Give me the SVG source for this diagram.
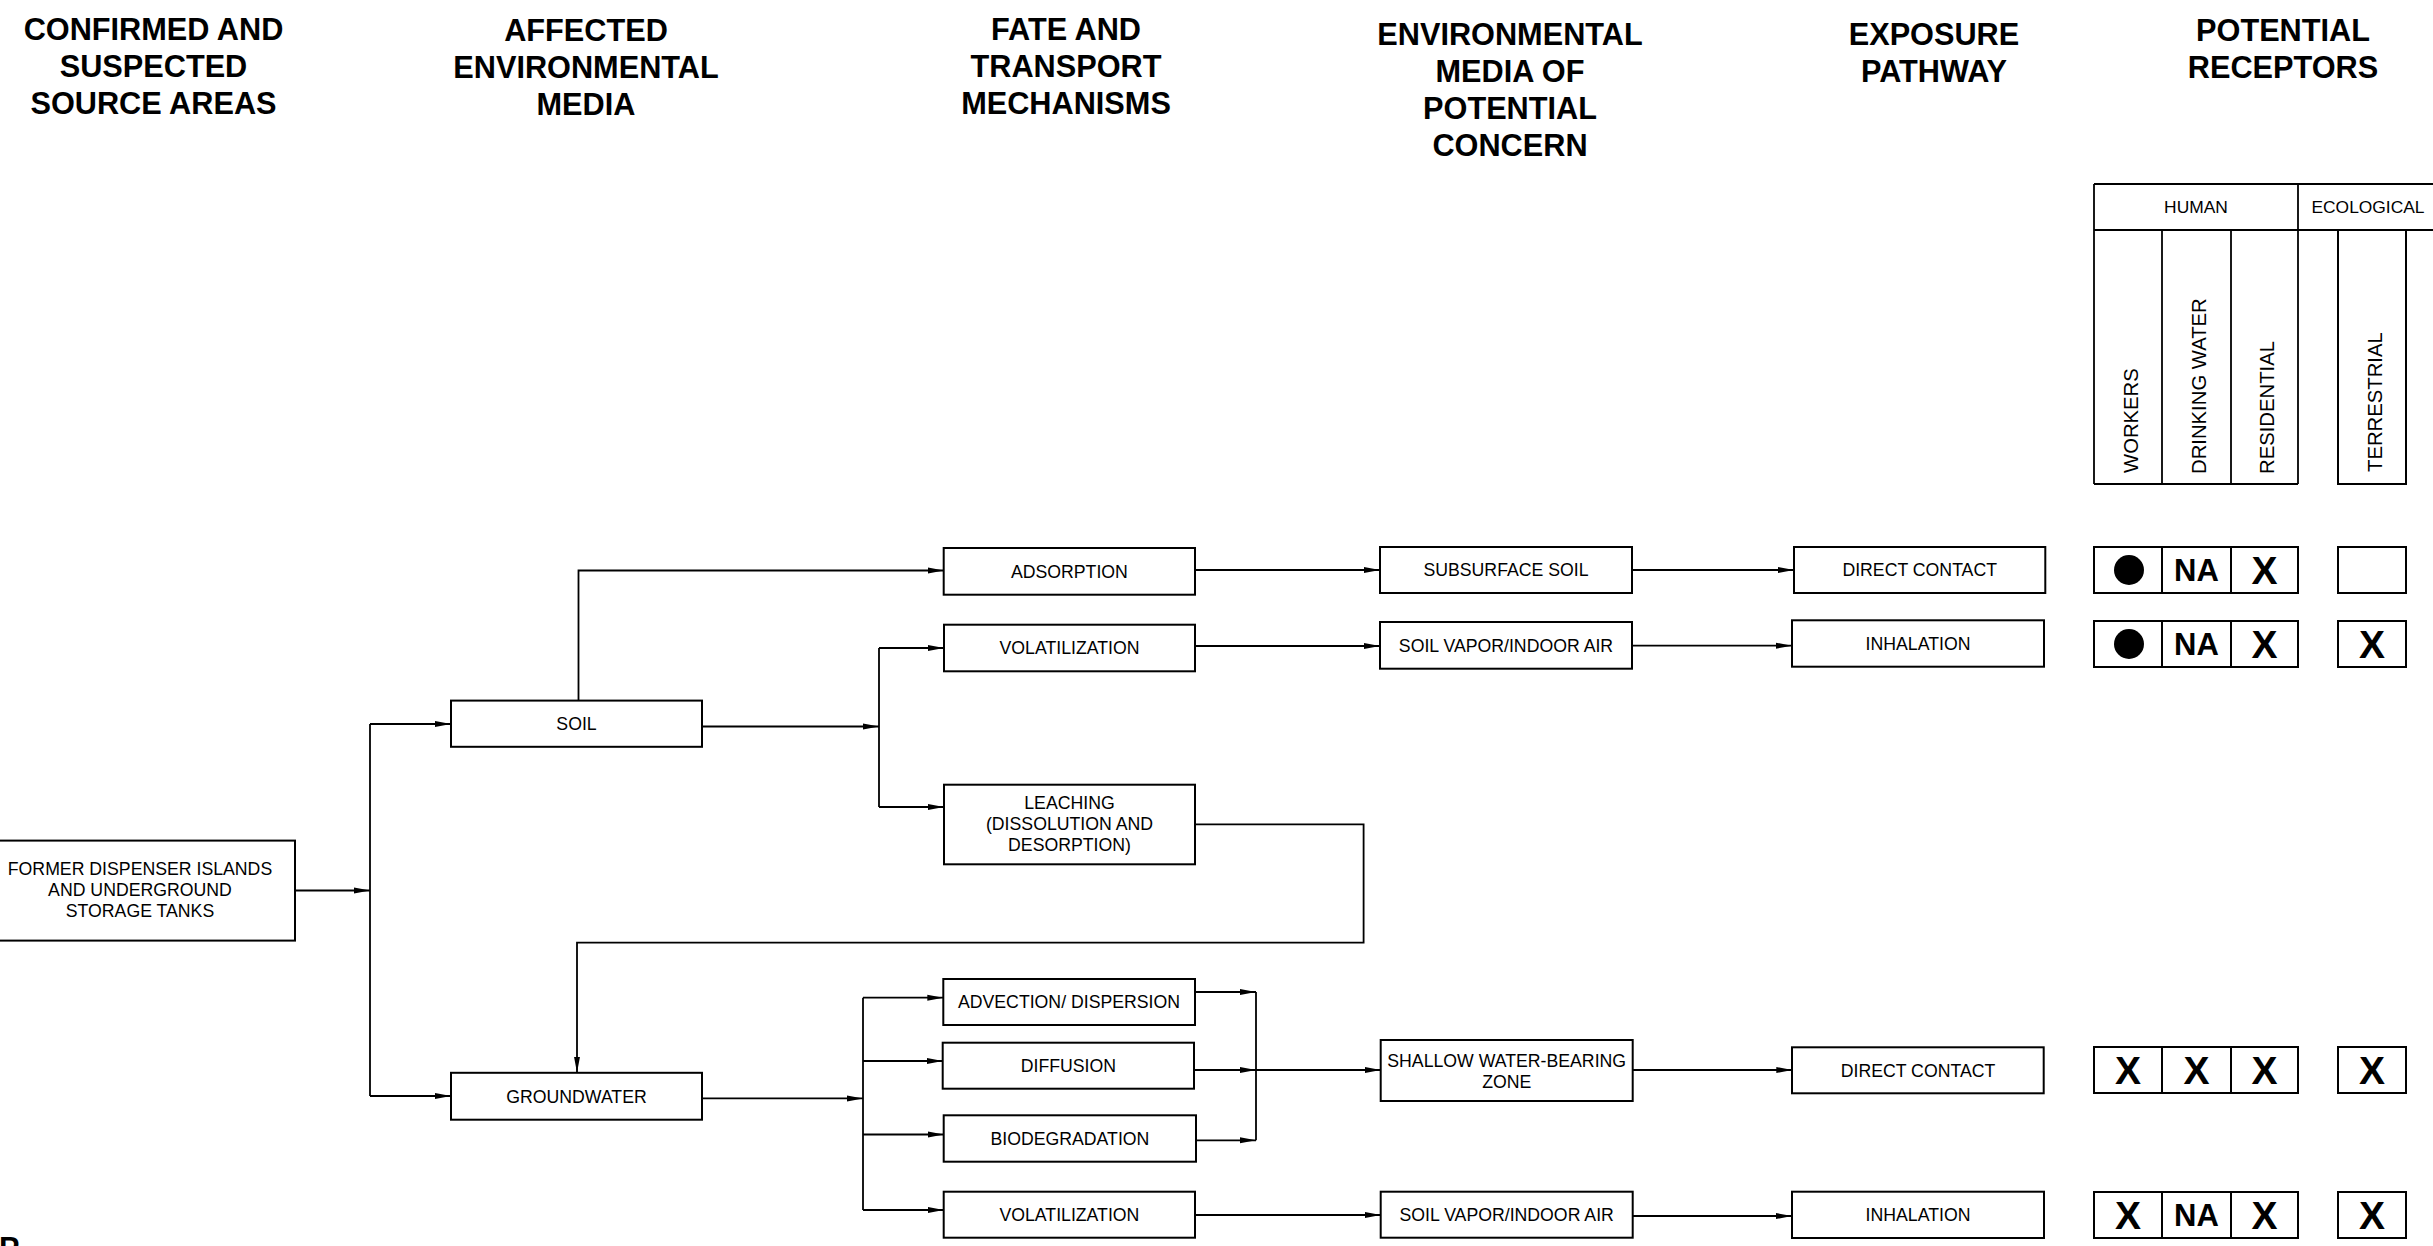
<svg xmlns="http://www.w3.org/2000/svg" width="2433" height="1246" viewBox="0 0 2433 1246">
<style>
.bg{fill:#fff}
.box{fill:#fff;stroke:#000;stroke-width:2}
.ln{fill:none;stroke:#000;stroke-width:1.8}
.ar{fill:none;stroke:#000;stroke-width:1.8;marker-end:url(#ah)}
.lbl{font-family:"Liberation Sans",Arial,sans-serif;font-size:17.7px;fill:#000;text-anchor:middle}
.hdr{font-family:"Liberation Sans",Arial,sans-serif;font-size:30.7px;font-weight:bold;fill:#000;text-anchor:middle}
.rot{font-family:"Liberation Sans",Arial,sans-serif;font-size:20.3px;fill:#000}
.grp{font-family:"Liberation Sans",Arial,sans-serif;font-size:17.4px;fill:#000;text-anchor:middle}
.x{font-family:"Liberation Sans",Arial,sans-serif;font-size:39px;font-weight:bold;fill:#000;text-anchor:middle}
.na{font-family:"Liberation Sans",Arial,sans-serif;font-size:31px;font-weight:bold;fill:#000;text-anchor:middle}
</style>
<defs>
<marker id="ah" markerUnits="userSpaceOnUse" markerWidth="17" markerHeight="8" refX="16" refY="4" orient="auto">
<path d="M0,1 L16,4 L0,7 z" fill="#000"/>
</marker>
</defs>
<rect class="bg" x="0" y="0" width="2433" height="1246"/>

<g id="headers">
<text class="hdr" x="153.5"><tspan x="153.5" y="39.5">CONFIRMED AND</tspan><tspan x="153.5" y="76.5">SUSPECTED</tspan><tspan x="153.5" y="113.5">SOURCE AREAS</tspan></text>
<text class="hdr" x="586"><tspan x="586" y="41">AFFECTED</tspan><tspan x="586" y="78">ENVIRONMENTAL</tspan><tspan x="586" y="115">MEDIA</tspan></text>
<text class="hdr" x="1066"><tspan x="1066" y="39.5">FATE AND</tspan><tspan x="1066" y="76.5">TRANSPORT</tspan><tspan x="1066" y="113.5">MECHANISMS</tspan></text>
<text class="hdr" x="1510"><tspan x="1510" y="45">ENVIRONMENTAL</tspan><tspan x="1510" y="82">MEDIA OF</tspan><tspan x="1510" y="119">POTENTIAL</tspan><tspan x="1510" y="156">CONCERN</tspan></text>
<text class="hdr" x="1934"><tspan x="1934" y="45">EXPOSURE</tspan><tspan x="1934" y="82">PATHWAY</tspan></text>
<text class="hdr" x="2283"><tspan x="2283" y="40.5">POTENTIAL</tspan><tspan x="2283" y="77.5">RECEPTORS</tspan></text>
<text class="hdr" x="-1" y="1259" style="text-anchor:start">P</text>
</g>

<g id="receptor-header">
<line class="ln" x1="2094" y1="184" x2="2440" y2="184"/>
<line class="ln" x1="2094" y1="230" x2="2440" y2="230"/>
<line class="ln" x1="2094" y1="184" x2="2094" y2="484"/>
<line class="ln" x1="2162" y1="230" x2="2162" y2="484"/>
<line class="ln" x1="2231" y1="230" x2="2231" y2="484"/>
<line class="ln" x1="2298" y1="184" x2="2298" y2="484"/>
<line class="ln" x1="2094" y1="484" x2="2298" y2="484"/>
<rect class="box" x="2338" y="230" width="68" height="254"/>
<text class="grp" x="2196" y="212.7">HUMAN</text>
<text class="grp" x="2368" y="212.7">ECOLOGICAL</text>
<text class="rot" transform="translate(2138.3,473) rotate(-90)">WORKERS</text>
<text class="rot" transform="translate(2206,474) rotate(-90)">DRINKING WATER</text>
<text class="rot" transform="translate(2273.5,474) rotate(-90)">RESIDENTIAL</text>
<text class="rot" transform="translate(2381.7,472) rotate(-90)">TERRESTRIAL</text>
</g>

<g id="connectors">
<path class="ar" d="M295,890.5 H370"/>
<path class="ln" d="M370,724 V1096"/>
<path class="ar" d="M370,724 H451"/>
<path class="ar" d="M370,1096 H451"/>
<path class="ar" d="M578.5,700.6 V570.5 H943.7"/>
<path class="ar" d="M702,726.5 H879"/>
<path class="ln" d="M879,648 V807"/>
<path class="ar" d="M879,648 H944"/>
<path class="ar" d="M879,807 H944"/>
<path class="ar" d="M1195,570 H1380"/>
<path class="ar" d="M1195,646 H1380"/>
<path class="ar" d="M1195,824.3 H1363.6 V942.7 H577 V1072.8"/>
<path class="ar" d="M702,1098.4 H863"/>
<path class="ln" d="M863,997.7 V1210"/>
<path class="ar" d="M863,997.7 H943.3"/>
<path class="ar" d="M863,1061 H942.7"/>
<path class="ar" d="M863,1134.5 H943.7"/>
<path class="ar" d="M863,1210 H943.7"/>
<path class="ar" d="M1195,992 H1256"/>
<path class="ar" d="M1194,1070 H1256"/>
<path class="ar" d="M1196,1140.3 H1256"/>
<path class="ln" d="M1256,992 V1140.3"/>
<path class="ar" d="M1256,1070 H1380.7"/>
<path class="ar" d="M1195,1215 H1380.7"/>
<path class="ar" d="M1632,570 H1794"/>
<path class="ar" d="M1632,645.7 H1792"/>
<path class="ar" d="M1632.7,1070 H1792.3"/>
<path class="ar" d="M1632.7,1216 H1792"/>
</g>

<g id="source">
<rect class="box" x="-15" y="840.6" width="310" height="100"/>
<text class="lbl"><tspan x="140" y="875">FORMER DISPENSER ISLANDS</tspan><tspan x="140" y="896">AND UNDERGROUND</tspan><tspan x="140" y="917">STORAGE TANKS</tspan></text>
</g>
<g id="soil"><rect class="box" x="451" y="700.6" width="251" height="46.2"/><text class="lbl" x="576.5" y="730">SOIL</text></g>
<g id="groundwater"><rect class="box" x="451" y="1072.8" width="251" height="46.9"/><text class="lbl" x="576.5" y="1102.6">GROUNDWATER</text></g>
<g id="adsorption"><rect class="box" x="943.7" y="548" width="251.3" height="46.7"/><text class="lbl" x="1069.4" y="577.7">ADSORPTION</text></g>
<g id="volatilization-soil"><rect class="box" x="944" y="624.7" width="251" height="46.6"/><text class="lbl" x="1069.5" y="654.3">VOLATILIZATION</text></g>
<g id="leaching"><rect class="box" x="944" y="784.7" width="251" height="79.6"/><text class="lbl"><tspan x="1069.5" y="809">LEACHING</tspan><tspan x="1069.5" y="830">(DISSOLUTION AND</tspan><tspan x="1069.5" y="851">DESORPTION)</tspan></text></g>
<g id="advection"><rect class="box" x="943.3" y="979" width="251.7" height="46"/><text class="lbl" x="1069" y="1008.3">ADVECTION/ DISPERSION</text></g>
<g id="diffusion"><rect class="box" x="942.7" y="1042.7" width="251.3" height="46"/><text class="lbl" x="1068.4" y="1072">DIFFUSION</text></g>
<g id="biodegradation"><rect class="box" x="943.7" y="1115.3" width="252.3" height="46.4"/><text class="lbl" x="1069.9" y="1144.8">BIODEGRADATION</text></g>
<g id="volatilization-gw"><rect class="box" x="943.7" y="1191.7" width="251.3" height="46"/><text class="lbl" x="1069.4" y="1221">VOLATILIZATION</text></g>
<g id="subsurface-soil"><rect class="box" x="1380" y="547" width="252" height="46"/><text class="lbl" x="1506" y="576.3">SUBSURFACE SOIL</text></g>
<g id="soil-vapor-1"><rect class="box" x="1380" y="622" width="252" height="46.7"/><text class="lbl" x="1506" y="651.7">SOIL VAPOR/INDOOR AIR</text></g>
<g id="shallow-zone"><rect class="box" x="1380.7" y="1040" width="252" height="61"/><text class="lbl"><tspan x="1506.7" y="1067">SHALLOW WATER-BEARING</tspan><tspan x="1506.7" y="1088">ZONE</tspan></text></g>
<g id="soil-vapor-2"><rect class="box" x="1380.7" y="1191.7" width="252" height="46"/><text class="lbl" x="1506.7" y="1221">SOIL VAPOR/INDOOR AIR</text></g>
<g id="direct-contact-1"><rect class="box" x="1794" y="547" width="251.3" height="46"/><text class="lbl" x="1919.7" y="576.3">DIRECT CONTACT</text></g>
<g id="inhalation-1"><rect class="box" x="1792" y="620.3" width="252" height="46.4"/><text class="lbl" x="1918" y="649.8">INHALATION</text></g>
<g id="direct-contact-2"><rect class="box" x="1792" y="1047.3" width="251.7" height="46"/><text class="lbl" x="1918" y="1076.6">DIRECT CONTACT</text></g>
<g id="inhalation-2"><rect class="box" x="1792" y="1191.7" width="252" height="46.3"/><text class="lbl" x="1918" y="1221.3">INHALATION</text></g>

<g id="receptors-row1">
<rect class="box" x="2094" y="547" width="68" height="46"/><rect class="box" x="2162" y="547" width="69" height="46"/><rect class="box" x="2231" y="547" width="67" height="46"/><rect class="box" x="2338" y="547" width="68" height="46"/>
<circle cx="2129" cy="570" r="15" fill="#000"/>
<text class="na" x="2196.5" y="581.1">NA</text>
<text class="x" x="2264.5" y="584">X</text>
</g>
<g id="receptors-row2">
<rect class="box" x="2094" y="621" width="68" height="46"/><rect class="box" x="2162" y="621" width="69" height="46"/><rect class="box" x="2231" y="621" width="67" height="46"/><rect class="box" x="2338" y="621" width="68" height="46"/>
<circle cx="2129" cy="644" r="15" fill="#000"/>
<text class="na" x="2196.5" y="655.1">NA</text>
<text class="x" x="2264.5" y="658">X</text>
<text class="x" x="2372" y="658">X</text>
</g>
<g id="receptors-row3">
<rect class="box" x="2094" y="1047" width="68" height="46"/><rect class="box" x="2162" y="1047" width="69" height="46"/><rect class="box" x="2231" y="1047" width="67" height="46"/><rect class="box" x="2338" y="1047" width="68" height="46"/>
<text class="x" x="2128" y="1084">X</text>
<text class="x" x="2196.5" y="1084">X</text>
<text class="x" x="2264.5" y="1084">X</text>
<text class="x" x="2372" y="1084">X</text>
</g>
<g id="receptors-row4">
<rect class="box" x="2094" y="1192" width="68" height="46"/><rect class="box" x="2162" y="1192" width="69" height="46"/><rect class="box" x="2231" y="1192" width="67" height="46"/><rect class="box" x="2338" y="1192" width="68" height="46"/>
<text class="x" x="2128" y="1229">X</text>
<text class="na" x="2196.5" y="1226.1">NA</text>
<text class="x" x="2264.5" y="1229">X</text>
<text class="x" x="2372" y="1229">X</text>
</g>
</svg>
